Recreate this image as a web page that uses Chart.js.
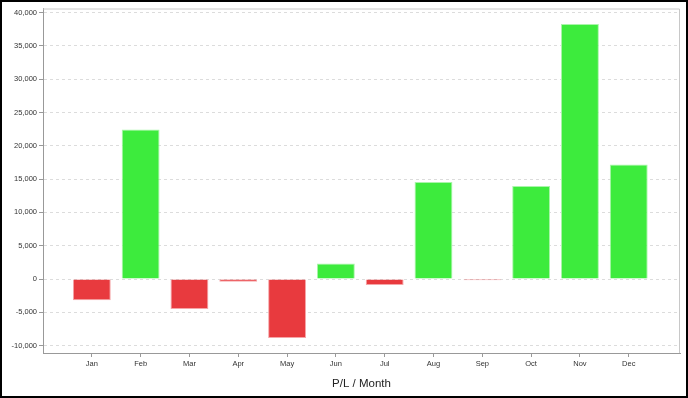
<!DOCTYPE html>
<html><head><meta charset="utf-8">
<script src="https://cdn.jsdelivr.net/npm/chart.js@4/dist/chart.umd.min.js"></script>
<style>
html,body{margin:0;padding:0;background:#fff;}
#wrap{width:688px;height:398px;box-sizing:border-box;border:2px solid #000;position:relative;}
canvas{display:block;}
</style></head>
<body><div id="wrap"><canvas id="c" width="684" height="394"></canvas></div>
<script>
const months = ['Jan','Feb','Mar','Apr','May','Jun','Jul','Aug','Sep','Oct','Nov','Dec'];
const pl = [-3190, 22450, -4500, -400, -8850, 2350, -900, 14550, -200, 13950, 38280, 17190];
const yTicks = [-10000, -5000, 0, 5000, 10000, 15000, 20000, 25000, 30000, 35000, 40000];
const axisTitle = 'P/L / Month';

const GREEN = 'rgb(61,235,61)', RED = 'rgb(232,58,62)';
const GREEN_B = 'rgb(170,245,170)', RED_B = 'rgb(245,165,167)';

const framePlugin = {
  id: 'frame',
  beforeDatasetsDraw(chart) {
    const a = chart.chartArea, ctx = chart.ctx;
    ctx.save();
    ctx.strokeStyle = '#c8c8c8';
    ctx.lineWidth = 1;
    ctx.beginPath();
    ctx.moveTo(a.left, a.top + 0.5); ctx.lineTo(a.right - 0.5, a.top + 0.5); ctx.lineTo(a.right - 0.5, a.bottom);
    ctx.stroke();
    ctx.restore();
  }
};

new Chart(document.getElementById('c'), {
  type: 'bar',
  data: {
    datasets: [{
      data: pl.map((v, i) => ({x: i, y: v})),
      backgroundColor: pl.map(v => v >= 0 ? GREEN : RED),
      borderColor: pl.map(v => v >= 0 ? GREEN_B : RED_B),
      borderWidth: 1,
      categoryPercentage: 0.8,
      barPercentage: 0.97
    }]
  },
  options: {
    responsive: false,
    animation: false,
    devicePixelRatio: 1,
    layout: {padding: {top: 5, right: 6, left: 0, bottom: 0}},
    plugins: {legend: {display: false}, tooltip: {enabled: false}},
    scales: {
      x: {
        type: 'linear',
        offset: false,
        min: -1, max: 12.05,
        afterBuildTicks: s => { s.ticks = months.map((m, i) => ({value: i})); },
        afterFit: s => { s.height = 43; },
        grid: {offset: false, drawOnChartArea: false, drawTicks: true, tickLength: 4, tickColor: '#999'},
        border: {display: true, color: '#999', width: 1},
        ticks: {
          autoSkip: false, maxRotation: 0, padding: 2,
          font: {family: 'Liberation Sans, Arial, sans-serif', size: 7.5},
          color: '#333',
          callback: v => months[v] ?? ''
        },
        title: {
          display: true, text: axisTitle, color: '#222',
          font: {family: 'Liberation Sans, Arial, sans-serif', size: 11.5},
          padding: {top: 0, bottom: 5}
        }
      },
      y: {
        min: -11100, max: 40600,
        afterBuildTicks: s => { s.ticks = yTicks.map(v => ({value: v})); },
        afterFit: s => { s.width = 41; },
        grid: {color: '#dcdcdc', lineWidth: 1, drawTicks: true, tickLength: 4, tickColor: '#999'},
        border: {display: true, color: '#999', width: 1, dash: [3, 3]},
        ticks: {
          padding: 2,
          font: {family: 'Liberation Sans, Arial, sans-serif', size: 7.5},
          color: '#333',
          callback: v => v.toLocaleString('en-US')
        }
      }
    }
  },
  plugins: [framePlugin]
});
</script></body></html>
